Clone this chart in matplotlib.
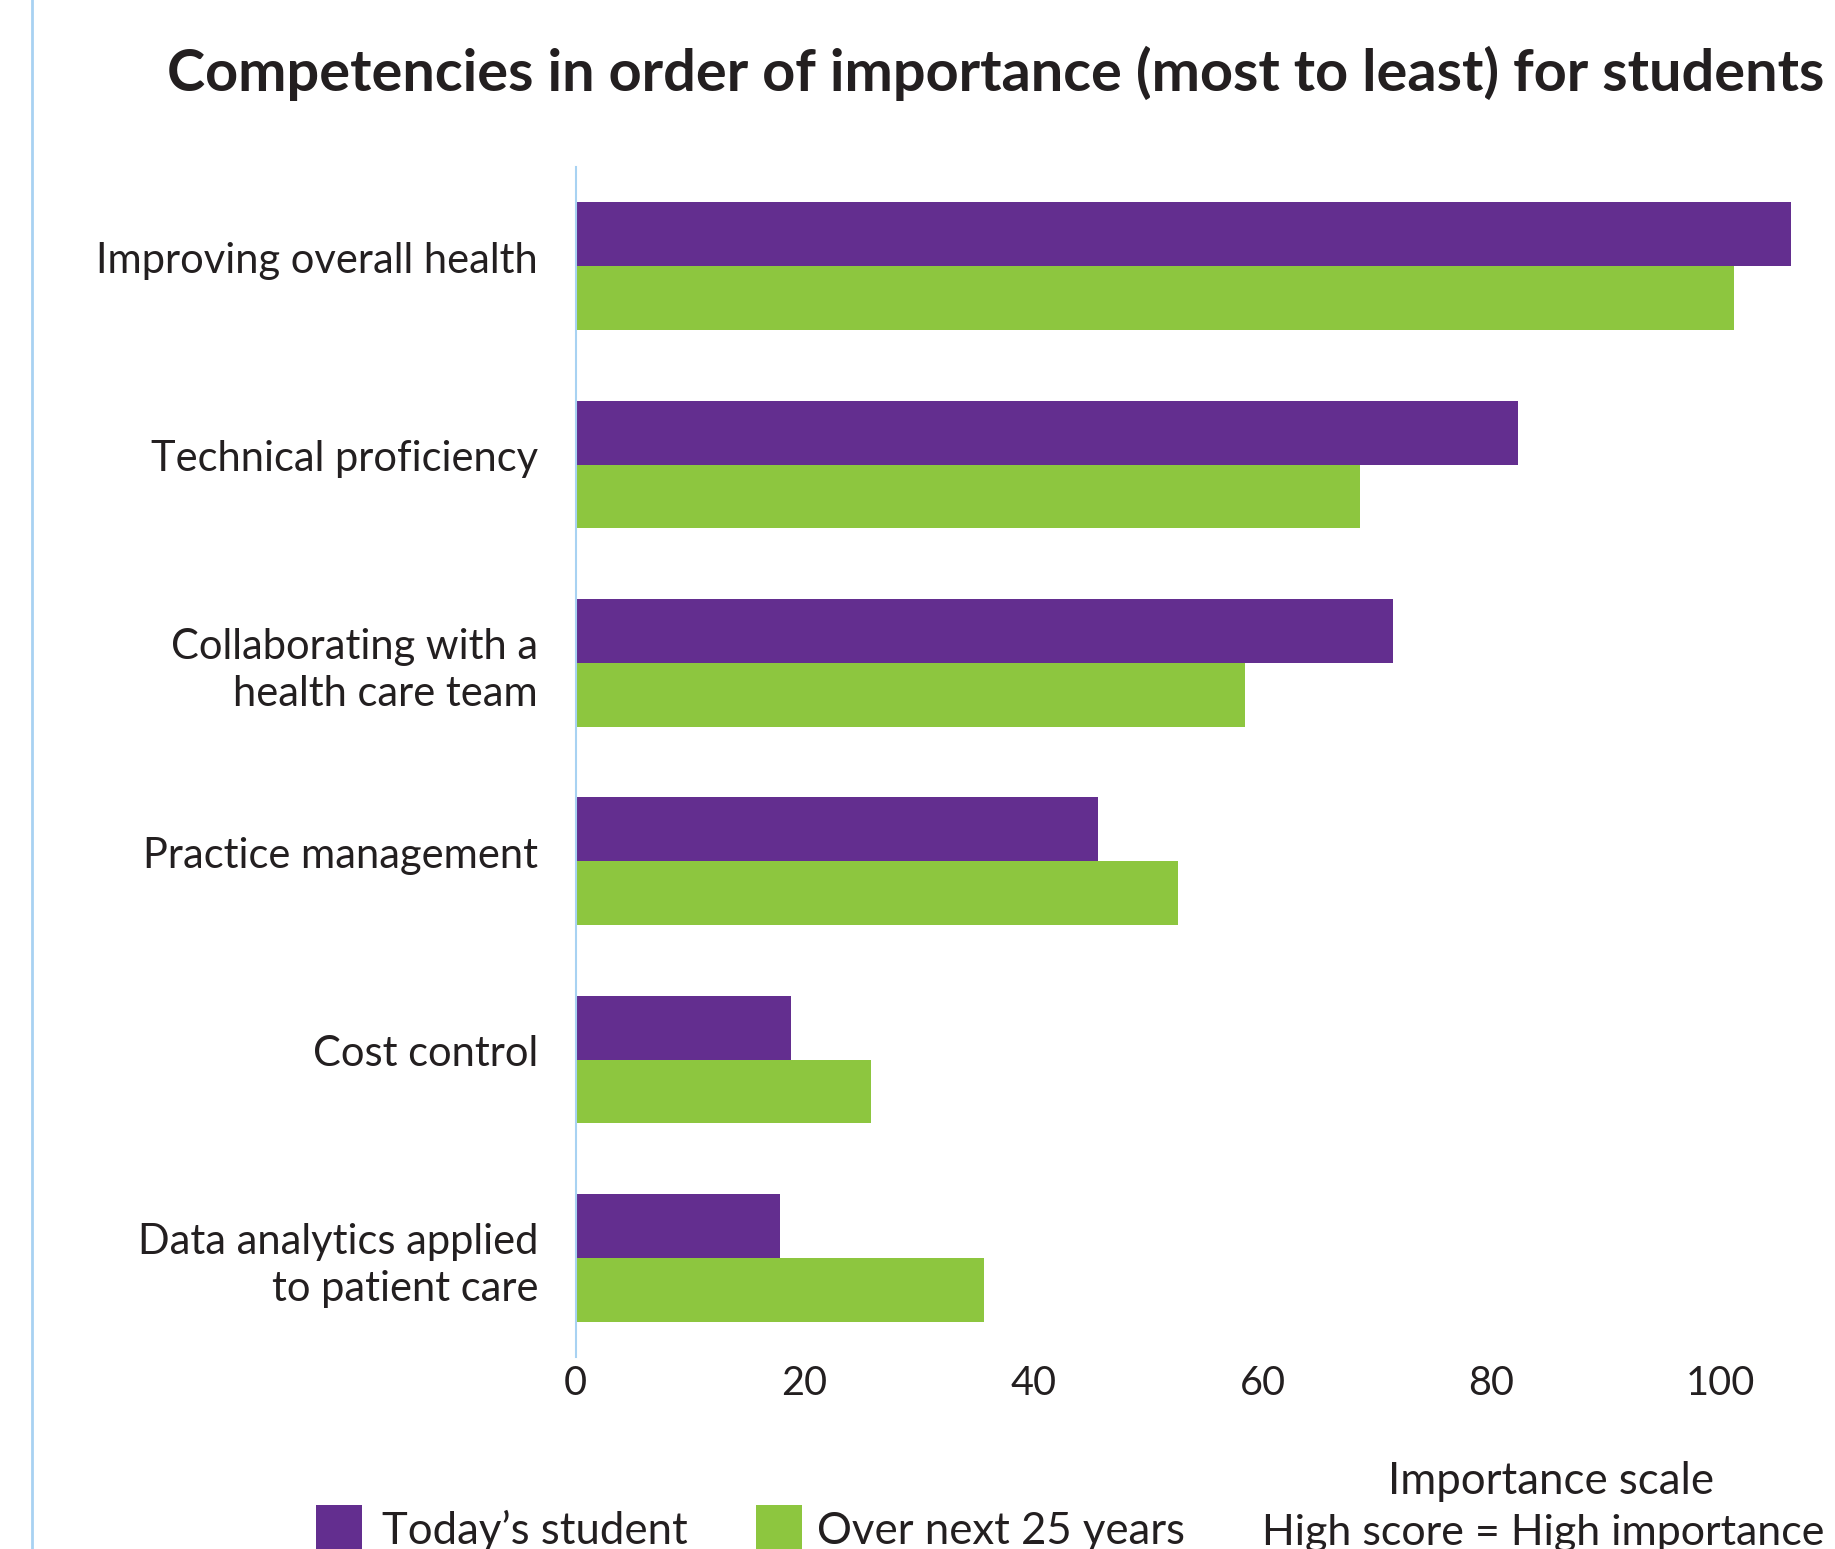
import matplotlib

matplotlib.use("Agg")
import matplotlib.pyplot as plt
import matplotlib.transforms as mtransforms
import numpy as np
from matplotlib.lines import Line2D
from matplotlib.patches import Rectangle

plt.rcParams["font.family"] = ["Lato", "DejaVu Sans"]

# data, top to bottom
categories = [
    "Improving overall health",
    "Technical proficiency",
    "Collaborating with a\nhealth care team",
    "Practice management",
    "Cost control",
    "Data analytics applied\nto patient care",
]
todays_student = [106.2, 82.3, 71.4, 45.6, 18.8, 17.9]
next_25_years = [101.2, 68.5, 58.5, 52.6, 25.8, 35.7]
x_ticks = [0, 20, 40, 60, 80, 100]

PURPLE = "#632E8F"
GREEN = "#8DC63F"
AXIS_BLUE = "#A8D2F2"
TEXT = "#231F20"

W, H = 1835, 1549
fig = plt.figure(figsize=(W / 100, H / 100), dpi=100)
fig.patch.set_facecolor("white")

ax = fig.add_axes([575.5 / W, 1 - 1357 / H, 1 - 575.5 / W, (1357 - 167) / H])

y = np.arange(len(categories))
bh = 0.322
ax.barh(y - bh / 2, todays_student, height=bh, color=PURPLE, linewidth=0)
ax.barh(y + bh / 2, next_25_years, height=bh, color=GREEN, linewidth=0)

ax.set_xlim(0, 110)
ax.set_ylim(len(categories) - 0.5, -0.5)

for s in ["top", "right", "bottom"]:
    ax.spines[s].set_visible(False)
ax.spines["left"].set_color(AXIS_BLUE)
ax.spines["left"].set_linewidth(1.5)

ax.set_yticks(y)
ax.set_yticklabels(categories, fontsize=30, color=TEXT, linespacing=1.27)
ax.set_xticks(x_ticks)
ax.set_xticklabels([str(t) for t in x_ticks], fontsize=28.5, color=TEXT)
ax.tick_params(axis="y", length=0, pad=27)
ax.tick_params(axis="x", length=0, pad=6)

# single-line labels sit a little above the group centre in the original
lift = mtransforms.ScaledTranslation(0, 9 / 100, fig.dpi_scale_trans)
for lab in ax.get_yticklabels():
    if "\n" not in lab.get_text():
        lab.set_transform(lab.get_transform() + lift)

# title
fig.text(167 / W, 1 - 91 / H,
         "Competencies in order of importance (most to least) for students",
         fontsize=41.5, fontweight="bold", color=TEXT, va="baseline", ha="left")

# light blue page rule on the left
fig.add_artist(Line2D([32 / W, 32 / W], [0, 1], color=AXIS_BLUE, linewidth=2,
                      transform=fig.transFigure))

# legend
for x0, tx, col, label in [(316, 382, PURPLE, "Today\u2019s student"),
                           (756, 817, GREEN, "Over next 25 years")]:
    fig.add_artist(Rectangle((x0 / W, 0), 46 / W, (H - 1505) / H,
                             transform=fig.transFigure, color=col, linewidth=0))
    fig.text(tx / W, 1 - 1544 / H, label, fontsize=31.5, color=TEXT,
             va="baseline", ha="left")

fig.text(1551 / W, 1 - 1494 / H, "Importance scale", fontsize=31.5, color=TEXT,
         va="baseline", ha="center")
fig.text(1262 / W, 1 - 1545 / H, "High score = High importance", fontsize=31,
         color=TEXT, va="baseline", ha="left")

fig.savefig("out.png", dpi=100, facecolor="white")
